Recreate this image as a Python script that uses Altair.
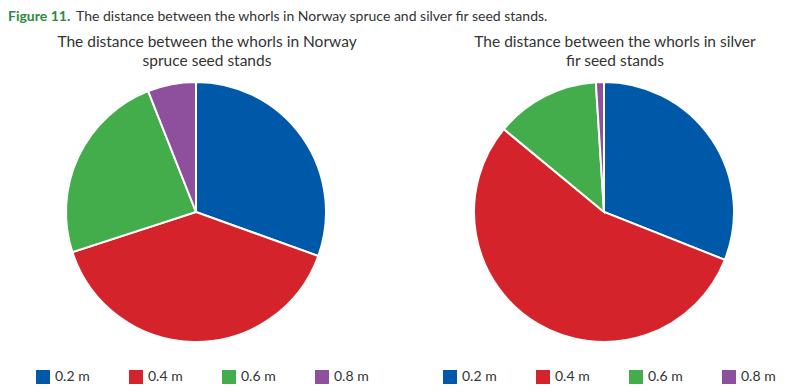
import altair as alt
import pandas as pd

sizes = ["0.2 m", "0.4 m", "0.6 m", "0.8 m"]
spruce_share = [30.5, 39.5, 24.0, 6.0]
fir_share = [31.0, 55.0, 13.0, 1.0]
colors = ["#0058a9", "#d5232b", "#43ad4b", "#8e4f9c"]

caption_bold = "Figure 11."
caption_text = "The distance between the whorls in Norway spruce and silver fir seed stands."
title_spruce = ["The distance between the whorls in Norway", "spruce seed stands"]
title_fir = ["The distance between the whorls in silver", "fir seed stands"]

W, H = 376, 260
FONT = "Lato"


def pie(values, title_lines, legend_x):
    df = pd.DataFrame({"size": sizes, "share": values, "ord": list(range(len(sizes)))})
    arc = alt.Chart(df).mark_arc(outerRadius=130, stroke="white", strokeWidth=2).encode(
        theta=alt.Theta("share:Q", stack=True),
        color=alt.Color(
            "size:N",
            scale=alt.Scale(domain=sizes, range=colors),
            legend=alt.Legend(
                title=None,
                orient="none",
                legendX=legend_x,
                legendY=288,
                direction="horizontal",
                symbolType="square",
                symbolSize=196,
                symbolStrokeWidth=0,
                symbolOpacity=1,
                labelFontSize=14,
                labelFont=FONT,
                labelColor="#333333",
                labelOffset=5,
                columnPadding=39,
            ),
        ),
        order=alt.Order("ord:Q"),
    )
    return arc.properties(
        width=W,
        height=H,
        title=alt.TitleParams(
            title_lines, font=FONT, fontSize=15.5, fontWeight="normal", color="#333333",
            anchor="middle", dx=11, offset=9, lineHeight=19
        ),
    )


cap_df = pd.DataFrame({"t": [caption_bold]})
cap1 = alt.Chart(cap_df).mark_text(
    align="left", baseline="middle", fontWeight="bold", color="#2d8a3e",
    fontSize=14, font=FONT
).encode(x=alt.value(0), y=alt.value(7), text="t:N")
cap2 = alt.Chart(pd.DataFrame({"t": [caption_text]})).mark_text(
    align="left", baseline="middle", color="#333333", fontSize=14, font=FONT
).encode(x=alt.value(68), y=alt.value(7), text="t:N")
caption = alt.layer(cap1, cap2).properties(width=784, height=16)

left = pie(spruce_share, title_spruce, 28)
right = pie(fir_share, title_fir, 27)

pies = alt.hconcat(left, right, spacing=32).resolve_scale(color="independent")

chart = (
    alt.vconcat(caption, pies, spacing=8)
    .resolve_scale(color="independent")
    .properties(padding={"top": 2, "left": 0, "right": 0, "bottom": 0}, background="white")
    .configure_view(stroke=None)
)

chart.save("out.html", embed_options={"renderer": "svg", "actions": False})
